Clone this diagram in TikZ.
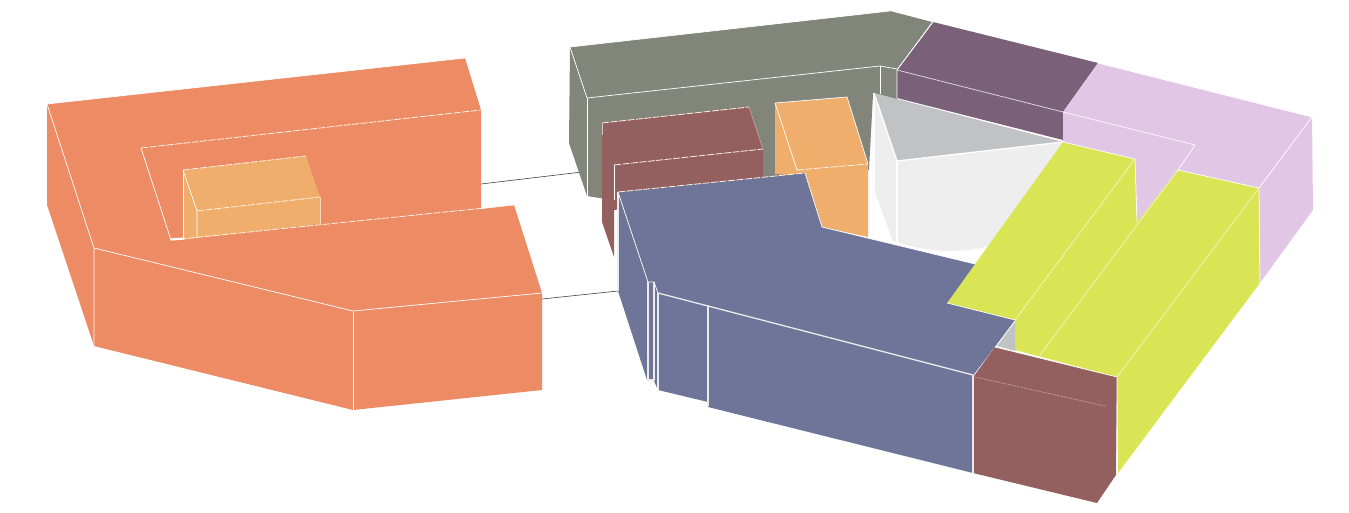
\documentclass[tikz,border=0pt]{standalone}
\definecolor{orng}{HTML}{EC8B64}
\definecolor{apri}{HTML}{EFAE6B}
\definecolor{slate}{HTML}{82867A}
\definecolor{wine}{HTML}{94605F}
\definecolor{plum}{HTML}{7A6179}
\definecolor{pinkish}{HTML}{E2C6E5}
\definecolor{lime}{HTML}{DAE556}
\definecolor{dusk}{HTML}{6E7598}
\definecolor{silver}{HTML}{C0C2C4}
\definecolor{pale}{HTML}{EEEEEE}
\tikzset{
  edge/.style={draw=white,line width=0.7pt,line join=round},
  thick edge/.style={draw=white!92!black,line width=1.3pt},
  dash edge/.style={draw=white!90!orange,line width=0.8pt,dash pattern=on 7pt off 1.5pt},
  dot edge/.style={draw=white!75!wine,line width=0.5pt,dash pattern=on 1.2pt off 1.2pt},
  link/.style={draw=black!75,line width=0.6pt}
}
\begin{document}
\begin{tikzpicture}[x=1pt,y=-1pt]
\useasboundingbox (0,0) rectangle (1349,513);
% connector ends
\coordinate (orangeTop) at (481,184);
\coordinate (slateSide) at (582,172);
\coordinate (orangeLow) at (542,299);
\coordinate (duskSide) at (618,291);
\draw[link] (orangeTop) -- (slateSide);
\draw[link] (orangeLow) -- (duskSide);
% left orange volume
\fill[orng] (47,104) -- (465,58) -- (481,110) -- (481,209) -- (514,205) -- (542,293) -- (542,390) -- (353,410) -- (94,346) -- (47,205) -- cycle;
\fill[apri] (183,170) -- (306,156) -- (320,197) -- (320,224) -- (197,238) -- (183,240) -- cycle;
\draw[edge] (47,104) -- (465,58);
\draw[edge] (47,104) -- (94,248) -- (94,346);
\draw[edge] (94,248) -- (353,311) -- (542,293);
\draw[edge] (353,311) -- (353,410);
\draw[dash edge] (141,148) -- (481,110);
\draw[edge] (141,148) -- (171,240);
\draw[dash edge] (171,240) -- (514,205);
\draw[white,line width=2.2pt] (171,239.5) -- (184,238.5);
\draw[dash edge] (183,170) -- (306,156);
\draw[dash edge] (197,211) -- (320,197);
\draw[edge] (183,170) -- (183,240);
\draw[edge] (183,170) -- (197,211) -- (197,238);
\draw[edge,white!50!apri] (320,197) -- (320,224);
% slate volume
\fill[slate] (570,47) -- (890,11) -- (932,22) -- (897,69) -- (897,100) -- (873,95) -- (869,170) -- (612,200) -- (587,196) -- (569,143) -- cycle;
\draw[edge] (570,47) -- (890,11);
\draw[edge] (570,47) -- (587,98) -- (880,66) -- (897,69);
\draw[edge] (587,98) -- (587,196);
\draw[edge] (880,66) -- (880,94);
% wine volume
\fill[wine] (602,123) -- (749,107) -- (763,149) -- (763,190) -- (614,210) -- (614,257) -- (602,222) -- cycle;
\draw[dash edge] (602,123) -- (749,107);
\draw[dash edge] (614,165) -- (763,149);
\draw[edge,white!40!wine] (749,107) -- (763,149);
\draw[edge,white!60!wine] (602,123) -- (602,135);
\draw[edge] (614,165) -- (614,200);
% apricot volume
\fill[apri] (775,103) -- (847,97) -- (868,164) -- (868,237) -- (822,227) -- (800,176) -- (775,174) -- cycle;
\draw[edge] (775,103) -- (847,97) -- (868,164);
\draw[edge] (775,103) -- (797,170);
\draw[dash edge] (797,170) -- (868,164);
% court
\fill[pale] (874,95) -- (1063,142) -- (989,246) .. controls (962,254) and (925,252) .. (897,242) -- (893,241) -- (874,190) -- cycle;
\fill[silver] (874,93) -- (1063,142) -- (897,161) -- cycle;
\draw[thick edge,white] (874,93) -- (897,161) -- (1063,142);
\draw[thick edge,white] (897,161) -- (897,242);
\draw[thick edge,white] (874,93) -- (874,190);
% plum volume
\fill[plum] (933,22) -- (1098,63) -- (1063,112) -- (1063,140) -- (897,98) -- (897,70) -- cycle;
\draw[edge] (933,22) -- (897,70) -- (897,98);
\draw[edge,white!80!plum] (897,70) -- (1063,112);
% pink volume
\fill[pinkish] (1098,63) -- (1312,117) -- (1313,210) -- (1260,283) -- (1259,188) -- (1178,170) -- (1137,222) -- (1135,159) -- (1063,142) -- (1063,112) -- cycle;
\draw[edge] (1098,63) -- (1312,117) -- (1259,188);
\draw[edge] (1063,112) -- (1195,145) -- (1178,170);
% lime volume
\fill[lime] (1063,142) -- (1135,159) -- (1137,222) -- (1178,170) -- (1259,188) -- (1260,283) -- (1118,473) -- (1117,377) -- (1015,350) -- (1015,320) -- (947,303) -- cycle;
\draw[edge] (1063,142) -- (1135,159) -- (1137,222);
\draw[edge] (1178,170) -- (1259,188) -- (1260,283);
\draw[edge,white!65!lime] (1135,159) -- (1015,320);
\draw[edge,white!65!lime] (1178,170) -- (1040,355);
\draw[edge,white!65!lime] (1259,188) -- (1117,377);
% dusk volume
\fill[dusk] (618,192) -- (805,173) -- (822,227) -- (975,264) -- (947,303) -- (1015,320) -- (974,375) -- (973,473) -- (708,407) -- (708,402) -- (658,390) -- (654,381) -- (647,380) -- (618,291) -- cycle;
\draw[dash edge] (618,192) -- (805,173);
\draw[edge] (805,173) -- (822,227) -- (975,264);
\draw[edge] (618,192) -- (648,282) -- (654,282) -- (658,293);
\draw[thick edge] (618,192) -- (618,291);
\draw[thick edge] (648,282) -- (648,380) -- (654,380);
\draw[thick edge] (654,282) -- (654,381);
\draw[thick edge] (658,293) -- (658,390);
\draw[thick edge] (708,305) -- (708,406);
\draw[thick edge] (658,293) -- (973,375);
\draw[edge] (947,303) -- (1015,320);
\draw[edge] (974,375) -- (1015,322);
% small silver patch and corner wine block
\fill[silver] (1015,322) -- (1015,351) -- (997,346) -- cycle;
\fill[wine] (995,347) -- (1117,377) -- (1116,475) -- (1097,503) -- (973,473) -- (974,376) -- cycle;
\draw[edge] (995,347) -- (1117,377) -- (1117,473);
\draw[thick edge] (973,375) -- (973,473);
\draw[dot edge] (975,377) -- (1105,406);
\end{tikzpicture}
\end{document}
